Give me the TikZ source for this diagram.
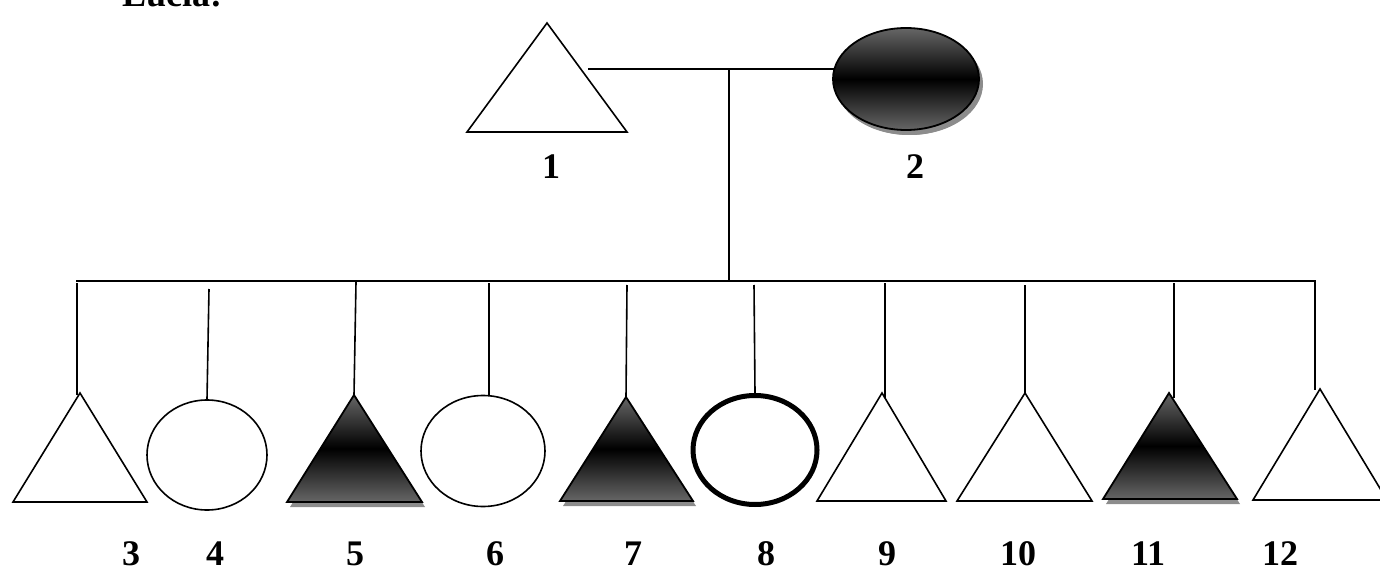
\documentclass[tikz,border=0pt]{standalone}
\usepackage{fontspec}
\setmainfont{Liberation Serif}
\usetikzlibrary{shapes.geometric,shadows}
\definecolor{shadegray}{RGB}{102,102,102}
\definecolor{shadowgray}{RGB}{140,140,140}
\begin{document}
\begin{tikzpicture}[x=1pt,y=-1pt,
  link/.style={line width=1.6pt},
  person/.style={draw=black,line width=1.6pt,fill=white},
  affected/.style={draw=black,line width=1.8pt,
    top color=shadegray,bottom color=shadegray,middle color=black,
    drop shadow={shadow xshift=3pt,shadow yshift=-5pt,fill=shadowgray,opacity=1}},
  female/.style={ellipse,inner sep=0pt},
  tag/.style={font=\fontsize{36}{40}\selectfont\bfseries,anchor=base,inner sep=0pt}]

\useasboundingbox (0,0) rectangle (1380,569);

% title
\node[tag,anchor=base west] (title) at (122,7) {Lucia:};

% ---- parents ----
\coordinate (p1) at (547,23);
\path[person] (p1) -- (467,132) -- (627,132) -- cycle;
\node[female,affected,minimum width=146pt,minimum height=102pt,
      drop shadow={shadow xshift=4pt,shadow yshift=-5pt,fill=shadowgray,opacity=1}]
      (p2) at (906,79) {};
\coordinate (pl) at (588,69);
\coordinate (mid) at (729,69);
\coordinate (sib) at (729,281);
\draw[link] (pl) -- ([xshift=1.5pt]p2.west |- pl);
\draw[link] (mid) -- (sib);

\node[tag] (n1) at (551,179) {1};
\node[tag] (n2) at (915,179) {2};

% ---- sibship line ----
\coordinate (sl) at (76,281);
\coordinate (sr) at (1316,281);
\draw[link] (sl) -- (sr);

% ---- children ----
% 3
\coordinate (d3) at (77,283);
\coordinate (c3) at (80,393);
\path[person] (c3) -- (13,502) -- (147,502) -- cycle;
\draw[link] (d3) -- (77,395);
% 4
\coordinate (d4) at (209,289);
\node[female,person,minimum width=120pt,minimum height=110pt] (c4) at (207,455) {};
\draw[link] (d4) -- (c4.north);
% 5
\coordinate (d5) at (356,282);
\coordinate (c5) at (354,395);
\path[affected] (c5) -- (287,502) -- (422,502) -- cycle;
\draw[link] (d5) -- (c5);
% 6
\coordinate (d6) at (489,283);
\node[female,person,minimum width=124pt,minimum height=111pt] (c6) at (483,451) {};
\draw[link] (d6) -- (489,395.5);
% 7
\coordinate (d7) at (627,285);
\coordinate (c7) at (626,397);
\path[affected] (c7) -- (560,501) -- (693,501) -- cycle;
\draw[link] (d7) -- (c7);
% 8
\coordinate (d8) at (754,285);
\node[female,person,line width=5pt,minimum width=124pt,minimum height=109pt] (c8) at (755,450) {};
\draw[link] (d8) -- (c8.north);
% 9
\coordinate (d9) at (885,283);
\coordinate (c9) at (882,393);
\path[person] (c9) -- (817,501) -- (946,501) -- cycle;
\draw[link] (d9) -- (885,398);
% 10
\coordinate (d10) at (1025,285);
\coordinate (c10) at (1025,393);
\path[person] (c10) -- (957,501) -- (1092,501) -- cycle;
\draw[link] (d10) -- (c10);
% 11
\coordinate (d11) at (1174,283);
\coordinate (c11) at (1169,393);
\path[affected] (c11) -- (1103,499) -- (1237,499) -- cycle;
\draw[link] (d11) -- (1174,398);
% 12
\coordinate (d12) at (1315,281);
\coordinate (c12) at (1320,389);
\path[person] (c12) -- (1253,500) -- (1387,500) -- cycle;
\draw[link] (d12) -- (1315,390);

% ---- labels ----
\node[tag] (n3)  at (131,565)  {3};
\node[tag] (n4)  at (215,565)  {4};
\node[tag] (n5)  at (355,565)  {5};
\node[tag] (n6)  at (495,565)  {6};
\node[tag] (n7)  at (633,565)  {7};
\node[tag] (n8)  at (766,565)  {8};
\node[tag] (n9)  at (887,565)  {9};
\node[tag] (n10) at (1018,565) {10};
\node[tag] (n11) at (1148,565) {11};
\node[tag] (n12) at (1280,565) {12};
\end{tikzpicture}
\end{document}
